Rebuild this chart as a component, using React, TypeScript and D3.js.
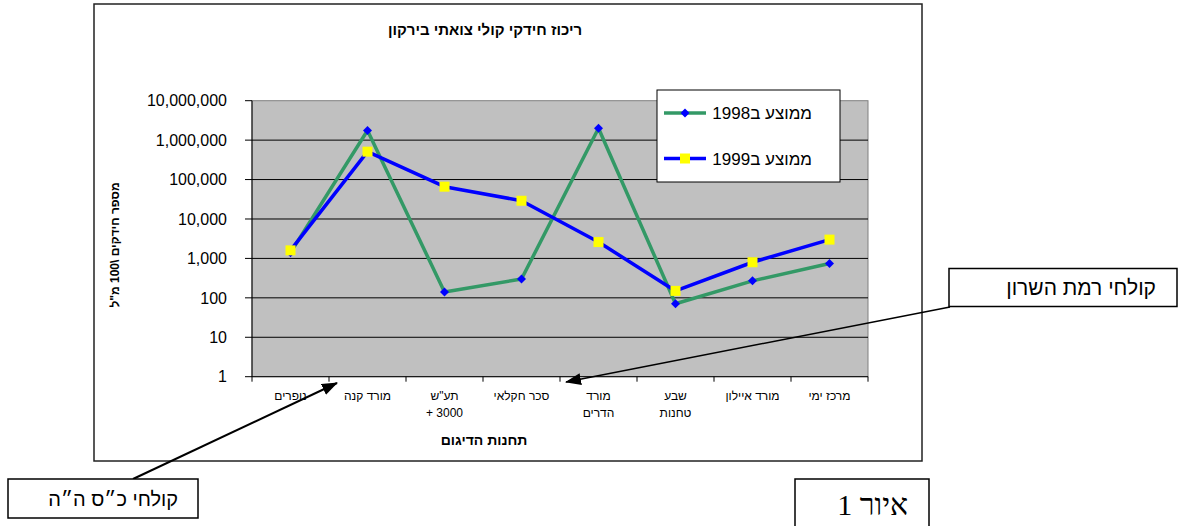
import React from "react";
import * as d3 from "d3";

const categories = [
  ["נופרים"],
  ["מורד קנה"],
  ["תע\"ש", "3000 +"],
  ["סכר חקלאי"],
  ["מורד", "הדרים"],
  ["שבע", "טחנות"],
  ["מורד איילון"],
  ["מרכז ימי"],
];
const avg1998 = [1400, 1750000, 140, 300, 2000000, 71, 270, 740];
const avg1999 = [1600, 510000, 66000, 29000, 2600, 150, 800, 3000];
const yTicks = [1, 10, 100, 1000, 10000, 100000, 1000000, 10000000];
const seriesNames = ["ממוצע ב1998", "ממוצע ב1999"];
const title = "ריכוז חידקי קולי צואתי בירקון";
const yTitle = "מספר חידקים \\100 מ\"ל";
const xTitle = "תחנות הדיגום";

const SANS = "Arial, 'Liberation Sans', sans-serif";

export default function App() {
  const left = 252, right = 868, top = 100.7, bottom = 376.7;
  const x = d3.scaleBand<number>().domain(categories.map((_, i) => i)).range([left, right]);
  const y = d3.scaleLog().domain([1, 1e7]).range([bottom, top]);
  const cx = (i: number) => (x(i) as number) + x.bandwidth() / 2;
  const line = d3.line<number>().x((_, i) => cx(i)).y((d) => y(d));
  const fmt = d3.format(",");
  const green = "#339966", blue = "#0000FF", yellow = "#FFFF00";

  const diamond = (px: number, py: number, r = 4.5) =>
    `M${px},${py - r}L${px + r},${py}L${px},${py + r}L${px - r},${py}Z`;

  return (
    <svg width={1180} height={526} style={{ position: "absolute", left: 0, top: 0, background: "#fff" }}>
      <defs>
        <marker id="arr" markerWidth="16" markerHeight="12" refX="15" refY="6" orient="auto" markerUnits="userSpaceOnUse">
          <path d="M0,0L16,6L0,12Z" fill="#000" />
        </marker>
      </defs>
      {/* chart frame */}
      <rect x={94} y={4} width={828} height={457} fill="#fff" stroke="#222" strokeWidth={1.5} />
      <text x={485} y={35} textAnchor="middle" direction="rtl" fontFamily={SANS} fontWeight="bold" fontSize={15}>{title}</text>

      {/* plot area */}
      <rect x={left} y={top} width={right - left} height={bottom - top} fill="#C0C0C0" stroke="#808080" strokeWidth={1} />
      {yTicks.map((t) => (
        <g key={t}>
          {t !== 1 && t !== 1e7 && <line x1={left} x2={right} y1={y(t)} y2={y(t)} stroke="#000" strokeWidth={1} />}
          <line x1={left - 7} x2={left} y1={y(t)} y2={y(t)} stroke="#000" strokeWidth={1} />
          <text x={227} y={y(t)} dy="0.36em" textAnchor="end" fontFamily={SANS} fontSize={16}>{fmt(t)}</text>
        </g>
      ))}
      <line x1={left} x2={left} y1={top} y2={bottom} stroke="#000" strokeWidth={1} />
      <line x1={left} x2={right} y1={bottom} y2={bottom} stroke="#000" strokeWidth={1} />
      {categories.map((_, i) => (
        <line key={i} x1={x(i) as number} x2={x(i) as number} y1={bottom} y2={bottom + 5} stroke="#000" />
      ))}
      <line x1={right} x2={right} y1={bottom} y2={bottom + 5} stroke="#000" />
      {categories.map((lines, i) => (
        <text key={i} x={cx(i)} y={400} textAnchor="middle" direction="rtl" fontFamily={SANS} fontSize={12}>
          {lines.map((l, j) => (
            <tspan key={j} x={cx(i)} dy={j === 0 ? 0 : 17}>{l}</tspan>
          ))}
        </text>
      ))}
      <text x={484} y={445} textAnchor="middle" direction="rtl" fontFamily={SANS} fontWeight="bold" fontSize={14}>{xTitle}</text>
      <text transform="translate(119,245) rotate(-90)" textAnchor="middle" direction="rtl" fontFamily={SANS} fontWeight="bold" fontSize={12}>{yTitle}</text>

      {/* series */}
      <path d={line(avg1998) || ""} fill="none" stroke={green} strokeWidth={3.5} strokeLinejoin="round" />
      <path d={line(avg1999) || ""} fill="none" stroke={blue} strokeWidth={3.5} strokeLinejoin="round" />
      {avg1998.map((v, i) => (
        <path key={i} d={diamond(cx(i), y(v))} fill={blue} />
      ))}
      {avg1999.map((v, i) => (
        <rect key={i} x={cx(i) - 5} y={y(v) - 5} width={10} height={10} fill={yellow} />
      ))}

      {/* legend */}
      <rect x={657} y={90} width={183} height={92} fill="#fff" stroke="#000" strokeWidth={1} />
      {seriesNames.map((n, i) => {
        const ly = 113 + i * 45.5;
        return (
          <g key={n}>
            <line x1={664} x2={706} y1={ly} y2={ly} stroke={i === 0 ? green : blue} strokeWidth={3.5} />
            {i === 0 ? <path d={diamond(685, ly)} fill={blue} /> : <rect x={680} y={ly - 5} width={10} height={10} fill={yellow} />}
            <text x={812} y={ly} dy="0.36em" textAnchor="start" direction="rtl" fontFamily={SANS} fontSize={17}>{n}</text>
          </g>
        );
      })}

      {/* annotations */}
      <line x1={133} y1={479} x2={337} y2={383} stroke="#000" strokeWidth={2} markerEnd="url(#arr)" />
      <line x1={950} y1={307} x2={566} y2={382} stroke="#000" strokeWidth={1.5} markerEnd="url(#arr)" />
      <rect x={949} y={268.5} width={228} height={38} fill="#fff" stroke="#000" strokeWidth={1.5} />
      <text x={1156} y={295} textAnchor="start" direction="rtl" fontFamily={SANS} fontSize={21}>קולחי רמת השרון</text>
      <rect x={8} y={479} width={190} height={39} fill="#fff" stroke="#000" strokeWidth={1.5} />
      <text x={178} y={506} textAnchor="start" direction="rtl" fontFamily={SANS} fontSize={20}>קולחי כ״ס ה״ה</text>
      <rect x={795} y={479} width={134} height={60} fill="#fff" stroke="#000" strokeWidth={1.5} />
      <text x={908} y={515} textAnchor="start" direction="rtl" fontFamily="'Liberation Serif', 'Times New Roman', serif" fontSize={30}>איור 1</text>
    </svg>
  );
}
